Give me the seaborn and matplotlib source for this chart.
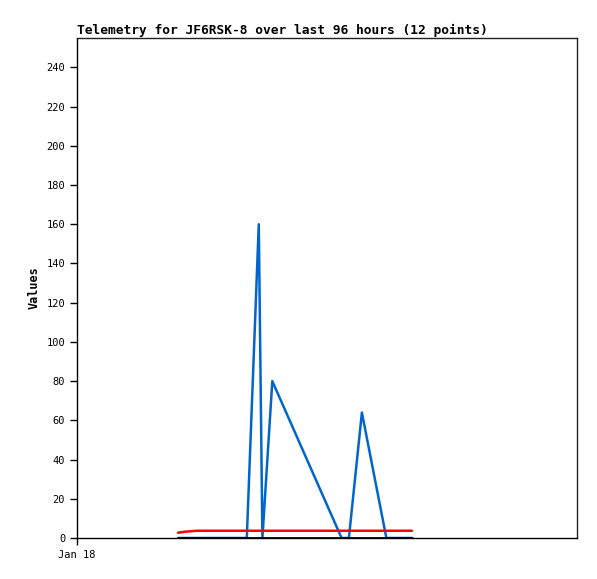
import pandas as pd
import numpy as np
import matplotlib
matplotlib.use("Agg")
import matplotlib.pyplot as plt
import matplotlib.dates as mdates
import seaborn as sns

# hours after Jan 18 00:00 for the 12 telemetry points
hours = [19.4, 20.7, 23.0, 32.6, 34.9, 35.6, 37.5, 50.8, 52.2, 54.7, 59.4, 64.3]
ch_blue = [0, 0, 0, 0, 160, 0, 80, 0, 0, 64, 0, 0]
ch_red = [2.7, 3.2, 3.7, 3.7, 3.7, 3.7, 3.7, 3.7, 3.7, 3.7, 3.7, 3.7]
ch_black = [0, 0, 0, 0, 0, 0, 0, 0, 0, 0, 0, 0]

start = pd.Timestamp("2024-01-18 00:00")
times = [start + pd.Timedelta(hours=h) for h in hours]
df = pd.DataFrame({"time": times, "blue": ch_blue, "red": ch_red, "black": ch_black})

sns.set_style("ticks")
plt.rcParams["font.family"] = ["DejaVu Sans Mono"]
plt.rcParams["text.color"] = "black"
plt.rcParams["axes.labelcolor"] = "black"

fig = plt.figure(figsize=(5.97, 5.79), dpi=100)
ax = fig.add_axes([77/597, 41/579, 500/597, 500/579])

sns.lineplot(data=df, x="time", y="blue", color="#0066cc", linewidth=1.8, ax=ax)
sns.lineplot(data=df, x="time", y="red", color="#ff0000", linewidth=1.8, ax=ax)
sns.lineplot(data=df, x="time", y="black", color="#000000", linewidth=2, ax=ax)

ax.set_xlim(start, start + pd.Timedelta(hours=96))
ax.set_ylim(0, 255)
ax.set_yticks(np.arange(0, 241, 20))
ax.set_xticks([start])
ax.xaxis.set_major_formatter(mdates.DateFormatter("%b %d"))
ax.tick_params(labelsize=7.5, length=5, width=1, colors="black")
ax.set_xlabel("")
ax.set_ylabel("Values", fontsize=8.5, fontweight="bold", color="black")
for s in ax.spines.values():
    s.set_color("#222222")
    s.set_linewidth(1)
ax.spines["left"].set_color("black")
ax.spines["bottom"].set_color("black")
ax.set_title("Telemetry for JF6RSK-8 over last 96 hours (12 points)",
             loc="left", fontsize=9.3, fontweight="bold", pad=3, color="black")

fig.savefig("out.png", dpi=100)
